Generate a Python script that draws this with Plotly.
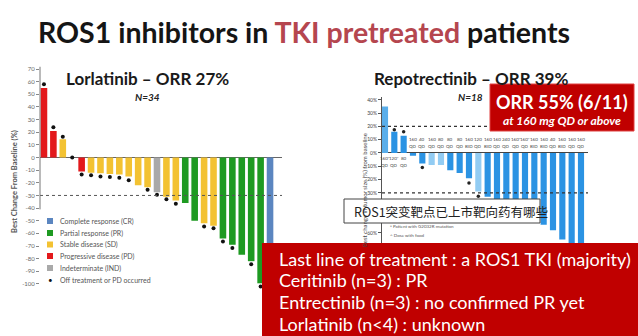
import plotly.graph_objects as go

W, H = 638, 336
def px(x): return x / W
def py(y): return 1 - y / H

# ---------------- data ----------------
lor_values = [55, 21, 14.5, 0, -11, -12, -12.5, -13, -13.5, -15, -22, -23.5, -27.5,
              -31, -34, -36, -50, -52, -54, -64, -69, -77, -82, -99.5, -100]
lor_resp = ['PD', 'PD', 'SD', 'SD', 'PD', 'SD', 'SD', 'SD', 'SD', 'SD', 'SD', 'SD', 'IND',
            'SD', 'SD', 'PR', 'PR', 'SD', 'SD', 'PR', 'PR', 'PR', 'PR', 'PR', 'CR']
lor_off = [58, 24, 16.5, 0, -13.5, -14, -15, -15.5, -16, -18, None, -25.5, -29.5,
           -33, -36.5, None, None, -54.5, -56, -66.5, -71.5, None, -84.5, -102, None]
lor_ticks = list(range(70, -101, -10))

resp_labels = ['Complete response (CR)', 'Partial response (PR)', 'Stable disease (SD)',
               'Progressive disease (PD)', 'Indeterminate (IND)']
resp_codes = ['CR', 'PR', 'SD', 'PD', 'IND']
resp_colors = ['#5b86c0', '#1e9a22', '#f3c232', '#e3191c', '#a9a9a9']
off_label = 'Off treatment or PD occurred'

rep_values = [35, 16, 13, -2, -8, -9, -9, -13, -15, -19, -29, -33, -37, -40, -43, -46,
              -50, -54, -58, -65, -72, -80]
rep_shade = ['mid', 'dark', 'dark', 'dark', 'dark', 'light', 'light', 'dark', 'dark', 'dark',
             'light', 'dark', 'dark', 'dark', 'dark', 'dark', 'dark', 'dark', 'dark', 'dark',
             'dark', 'dark']
rep_dot_x = [1, 2, 4, 9, 10, 14, 15, 16]
rep_dot_y = [17.5, 16, -11, -22.5, -32.5, 18, 18, 18]
rep_ticks = [40, 30, 20, 10, 0, -10, -20, -30, -60]
rep_dose_top = ['160', '40', '160', '80', '80', '80', '160', '120', '160', '160', '240',
                '160*', '160*', '160', '160', '40', '160', '160', '160']
rep_dose_bot = ['QD', 'QD', 'QD', 'QD', 'QD', 'QD', 'BID', 'QD', 'BID', 'QD', 'QD',
                'QD', 'QD', 'BID', 'BID', 'QD', 'BID', 'QD', 'QD']
rep_dose_low_top = ['160*', '120*', '80']
rep_dose_low_bot = ['QD', 'QD', 'QD']

shade_colors = {'dark': '#2b93e3', 'mid': '#5aaeea', 'light': '#92ccf3'}

FONT = 'Lato'

fig = go.Figure()

# left chart bars
cmap = dict(zip(resp_codes, resp_colors))
fig.add_trace(go.Bar(x=list(range(len(lor_values))), y=lor_values,
                     marker=dict(color=[cmap[r] for r in lor_resp], line=dict(width=0)),
                     width=0.7, xaxis='x', yaxis='y', hoverinfo='skip'))
ox = [i for i, v in enumerate(lor_off) if v is not None]
oy = [v for v in lor_off if v is not None]
fig.add_trace(go.Scatter(x=ox, y=oy, mode='markers', marker=dict(color='#111', size=4),
                         cliponaxis=False, xaxis='x', yaxis='y', hoverinfo='skip'))

# right chart bars
fig.add_trace(go.Bar(x=list(range(len(rep_values))), y=rep_values,
                     marker=dict(color=[shade_colors[s] for s in rep_shade], line=dict(width=0)),
                     width=0.66, xaxis='x2', yaxis='y2', hoverinfo='skip'))
fig.add_trace(go.Scatter(x=rep_dot_x, y=rep_dot_y, mode='markers',
                         marker=dict(color='#222', size=3.5), cliponaxis=False,
                         xaxis='x2', yaxis='y2', hoverinfo='skip'))

shapes = []
annotations = []

def ann(x, y, text, size, color, family=FONT, xanchor='center', yanchor='middle', **kw):
    annotations.append(dict(x=px(x), y=py(y), xref='paper', yref='paper', text=text,
                            xanchor=xanchor, yanchor=yanchor, showarrow=False,
                            font=dict(size=size, color=color, family=family), **kw))

# dashed reference lines
shapes.append(dict(type='line', xref='x domain', yref='y', x0=0, x1=1, y0=-30, y1=-30,
                   line=dict(color='#555', width=1, dash='dot')))
shapes.append(dict(type='line', xref='paper', yref='y', x0=px(40), x1=px(40), y0=72, y1=-41,
                   line=dict(color='#777', width=1)))
for yv in (20, -30):
    shapes.append(dict(type='line', xref='x2 domain', yref='y2', x0=0, x1=1, y0=yv, y1=yv,
                       line=dict(color='#333', width=1.2, dash='dot')))

# dose labels right chart
def dose(i, y, t):
    annotations.append(dict(x=i, y=y, xref='x2', yref='y2', text=t, showarrow=False,
                            xanchor='center', yanchor='middle',
                            font=dict(size=4.5, color='#444', family=FONT)))
for i, (t, b) in enumerate(zip(rep_dose_top, rep_dose_bot)):
    dose(i + 3, 10, t)
    dose(i + 3, 4.6, b)
for i, (t, b) in enumerate(zip(rep_dose_low_top, rep_dose_low_bot)):
    dose(i, -3.8, t)
    dose(i, -9.6, b)

# left legend
leg_y = [221, 233, 244.5, 256, 268]
for lab, col, yy in zip(resp_labels, resp_colors, leg_y):
    shapes.append(dict(type='rect', xref='paper', yref='paper', x0=px(47), x1=px(53),
                       y0=py(yy + 3), y1=py(yy - 3), fillcolor=col, line=dict(width=0)))
    ann(58, yy, lab, 7, '#555', xanchor='left')
ann(50, 280, '•', 8, '#111')
ann(58, 280, off_label, 7, '#555', xanchor='left')

# axis titles
ann(14, 182, '<b>Best Change From Baseline (%)</b>', 7.5, '#555', textangle=-90)
ann(364, 190, 'Best change in tumor size (%) from baseline', 6, '#444', textangle=-90)

# right legend (small)
ann(388, 226, '▫ Patient with G2032R mutation', 4.5, '#555', xanchor='left')
ann(388, 236, '^ Dose with food', 4.5, '#555', xanchor='left')

# titles
ann(36, 32, '<b>ROS1 inhibitors in <span style="color:#b5464f">TKI pretreated</span> patients</b>',
    28.5, '#151515', xanchor='left')
ann(147, 78, '<b>Lorlatinib – ORR 27%</b>', 17, '#1a1a1a')
ann(147, 97, '<b><i>N=34</i></b>', 10, '#222')
ann(471, 78, '<b>Repotrectinib – ORR 39%</b>', 17, '#1a1a1a')
ann(470, 97, '<b><i>N=18</i></b>', 10, '#222')

# ORR box
shapes.append(dict(type='rect', xref='paper', yref='paper', x0=px(490), x1=px(634),
                   y0=py(131), y1=py(84), fillcolor='#c00000',
                   line=dict(color='#e04040', width=1), layer='above'))
ann(562, 102, '<b>ORR 55% (6/11)</b>', 18, 'white')
ann(562, 120, '<b><i>at 160 mg QD or above</i></b>', 12, 'white')

# caption box
shapes.append(dict(type='rect', xref='paper', yref='paper', x0=px(344), x1=px(540),
                   y0=py(223), y1=py(199), fillcolor='white',
                   line=dict(color='#444', width=1), layer='above'))
ann(352, 211, 'ROS1突变靶点已上市靶向药有哪些', 12.5, '#222', family='Noto Sans CJK SC',
    xanchor='left')

# bottom red box
shapes.append(dict(type='rect', xref='paper', yref='paper', x0=px(262), x1=px(640),
                   y0=py(338), y1=py(243), fillcolor='#c00000', line=dict(width=0),
                   layer='above'))
box_lines = ['Last line of treatment : a ROS1 TKI (majority)', 'Ceritinib (n=3) : PR',
             'Entrectinib (n=3) : no confirmed PR yet', 'Lorlatinib (n<4) : unknown']
for t, yy in zip(box_lines, [259, 280, 302, 324]):
    ann(277, yy, t, 18, 'white', xanchor='left')

fig.update_layout(
    width=W, height=H, margin=dict(l=0, r=0, t=0, b=0),
    paper_bgcolor='white', plot_bgcolor='rgba(0,0,0,0)', showlegend=False, barmode='overlay',
    xaxis=dict(domain=[px(40), px(282)], range=[-0.42, 25.27], showticklabels=False,
               showgrid=False, zeroline=False, showline=False, fixedrange=True),
    yaxis=dict(domain=[py(289), py(66.5)], range=[-104, 72], tickvals=lor_ticks,
               ticktext=[str(v) for v in lor_ticks], ticks='outside', ticklen=3,
               tickcolor='#888', tickfont=dict(size=6, color='#666', family=FONT),
               showgrid=False, zeroline=True, zerolinecolor='#666', zerolinewidth=1.2,
               showline=False),
    xaxis2=dict(domain=[px(382), px(588)], range=[-0.32, 21.75], showticklabels=False,
                showgrid=False, zeroline=False, showline=False, anchor='y2'),
    yaxis2=dict(domain=[py(259.4), py(97.1)], range=[-80, 42], tickvals=rep_ticks,
                ticktext=[f'{v}%' for v in rep_ticks], ticks='outside', ticklen=3,
                tickcolor='#555', tickfont=dict(size=5, color='#444', family=FONT),
                showgrid=False, zeroline=True, zerolinecolor='#444', zerolinewidth=1,
                showline=True, linecolor='#555', linewidth=1, anchor='x2'),
    shapes=shapes, annotations=annotations,
)

fig.write_html('out.html')
